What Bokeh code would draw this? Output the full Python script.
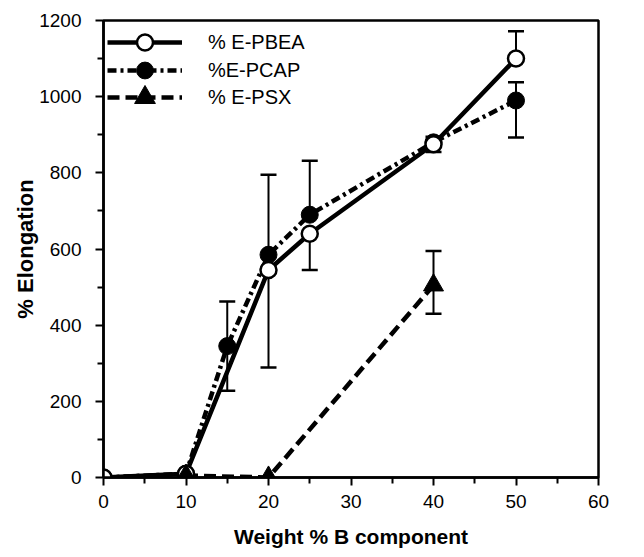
from bokeh.plotting import figure
from bokeh.models import Range1d, Whisker, TeeHead, ColumnDataSource, Legend, LegendItem, FixedTicker
from bokeh.embed import file_html
from bokeh.resources import INLINE

# Data
pbea_x = [0, 10, 20, 25, 40, 50]
pbea_y = [0, 10, 545, 640, 875, 1100]
pbea_err_x = [20, 25, 40, 50]
pbea_err_lo = [289, 545, 855, 1100]
pbea_err_hi = [795, 640, 875, 1172]

pcap_x = [0, 10, 15, 20, 25, 40, 50]
pcap_y = [0, 10, 345, 585, 690, 880, 990]
pcap_err_x = [15, 25, 40, 50]
pcap_err_lo = [228, 690, 880, 893]
pcap_err_hi = [462, 832, 895, 1038]

psx_x = [10, 20, 40]
psx_y = [5, 0, 505]
psx_err_x = [40]
psx_err_lo = [430]
psx_err_hi = [595]

x_ticks = [0, 10, 20, 30, 40, 50, 60]
y_ticks = [0, 200, 400, 600, 800, 1000, 1200]
labels = ["% E-PBEA", "%E-PCAP", "% E-PSX"]

FONT = "Liberation Sans"

p = figure(width=644, height=557, output_backend="svg", toolbar_location=None,
           x_range=Range1d(0, 60), y_range=Range1d(0, 1200),
           min_border_left=103, min_border_right=46, min_border_top=20, min_border_bottom=80)
p.xgrid.visible = False
p.ygrid.visible = False
p.outline_line_color = "black"
p.outline_line_width = 2.5
p.background_fill_color = "white"
p.border_fill_color = "white"

for ax in (p.xaxis[0], p.yaxis[0]):
    ax.axis_line_width = 2.5
    ax.axis_line_color = "black"
    ax.major_tick_in = 0
    ax.major_tick_out = 8
    ax.minor_tick_in = 0
    ax.minor_tick_out = 6
    ax.major_tick_line_width = 2
    ax.minor_tick_line_width = 2
    ax.major_label_text_font = FONT
    ax.major_label_text_font_size = "19px"
    ax.major_label_text_color = "black"
    ax.axis_label_text_font = FONT
    ax.axis_label_text_font_style = "bold"
    ax.axis_label_text_color = "black"

p.xaxis.axis_label_text_font_size = "21px"
p.yaxis.axis_label_text_font_size = "22px"
p.xaxis.ticker = FixedTicker(ticks=x_ticks, minor_ticks=[5, 15, 25, 35, 45, 55])
p.yaxis.ticker = FixedTicker(ticks=y_ticks, minor_ticks=[100, 300, 500, 700, 900, 1100])
p.xaxis.axis_label = "Weight % B component"
p.yaxis.axis_label = "% Elongation"
p.xaxis.axis_label_standoff = 14
p.yaxis.axis_label_standoff = -2
p.xaxis.major_label_standoff = 9
p.yaxis.major_label_standoff = 14

def add_err(xs, lo, hi):
    src = ColumnDataSource(dict(x=xs, lo=lo, hi=hi))
    w = Whisker(source=src, base="x", lower="lo", upper="hi", line_width=2, line_color="black",
                upper_head=TeeHead(size=16, line_width=2.5, line_color="black"),
                lower_head=TeeHead(size=16, line_width=2.5, line_color="black"))
    p.add_layout(w)

add_err(pbea_err_x, pbea_err_lo, pbea_err_hi)
add_err(pcap_err_x, pcap_err_lo, pcap_err_hi)
add_err(psx_err_x, psx_err_lo, psx_err_hi)

l1 = p.line(pbea_x, pbea_y, line_color="black", line_width=4.5)
l2 = p.line(pcap_x, pcap_y, line_color="black", line_width=4.5, line_dash="9 4 3 4")
l3 = p.line(psx_x, psx_y, line_color="black", line_width=4.5, line_dash="12 6")

m2 = p.scatter(pcap_x, pcap_y, marker="circle", size=17, fill_color="black", line_color="black")
m1 = p.scatter(pbea_x, pbea_y, marker="circle", size=16, fill_color="white", line_color="black", line_width=2.5)
m3 = p.scatter(psx_x, psx_y, marker="triangle", size=20, fill_color="black", line_color="black")

# Legend: one small legend per entry so the sample markers can be large while rows stay close
frame_bottom = 477
entries = [(labels[0], [l1, m1], 42, 40), (labels[1], [l2, m2], 70, 42), (labels[2], [l3, m3], 97, 52)]
for lab, rends, cy, gh in entries:
    lg = Legend(items=[LegendItem(label=lab, renderers=rends)],
                location=(4, frame_bottom - (cy + gh / 2)))
    lg.glyph_width = 75
    lg.glyph_height = gh
    lg.label_height = gh
    lg.label_standoff = 26
    lg.padding = 0
    lg.margin = 0
    lg.border_line_color = None
    lg.background_fill_alpha = 0
    lg.label_text_font = FONT
    lg.label_text_font_size = "20px"
    lg.label_text_color = "black"
    p.add_layout(lg)

open("out.html", "w").write(file_html(p, INLINE))
